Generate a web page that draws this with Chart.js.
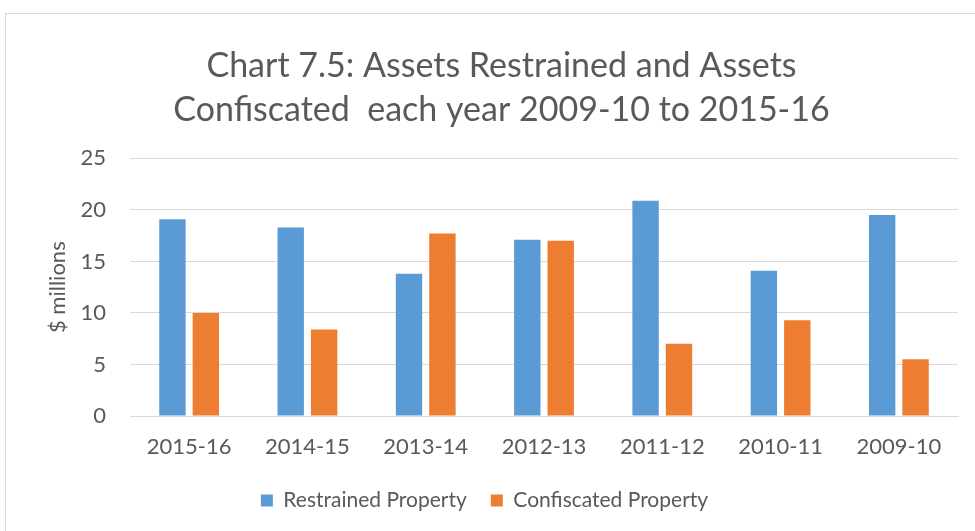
<!DOCTYPE html>
<html>
<head>
<meta charset="utf-8">
<script src="https://cdn.jsdelivr.net/npm/chart.js@4.4.1/dist/chart.umd.min.js"></script>
<style>
  html, body { margin: 0; padding: 0; background: #fff; overflow: hidden; }
  #frame { position: absolute; left: 5px; top: 13px; width: 1000px; height: 600px; border: 1px solid #d9d9d9; box-sizing: border-box; }
  #wrap { position: absolute; left: 0; top: 0; width: 975px; height: 531px; }
</style>
</head>
<body>
<div id="frame"></div>
<div id="wrap"><canvas id="chart" width="975" height="531"></canvas></div>
<script>
// Chart 7.5 data ($ millions)
const years = ['2015-16', '2014-15', '2013-14', '2012-13', '2011-12', '2010-11', '2009-10'];
const restrained = [19.1, 18.3, 13.8, 17.1, 20.9, 14.1, 19.5];
const confiscated = [10.0, 8.4, 17.7, 17.0, 7.0, 9.3, 5.5];
const yTicks = [0, 5, 10, 15, 20, 25];

const TEXT = '#595959';
const GRID = '#d9d9d9';
const FONT = 'Lato';

// legend in the original sits a bit left of the title's centre
const legendShift = {
    id: 'legendShift',
    afterLayout(chart) {
        if (chart.legend) {
            chart.legend.left -= 17;
            chart.legend.right -= 17;
        }
    }
};

const ctx = document.getElementById('chart').getContext('2d');
new Chart(ctx, {
    type: 'bar',
    data: {
        labels: years,
        datasets: [
            { label: 'Restrained Property', data: restrained, backgroundColor: '#5b9bd5' },
            { label: 'Confiscated Property', data: confiscated, backgroundColor: '#ed7d31' }
        ]
    },
    options: {
        responsive: false,
        animation: false,
        categoryPercentage: 0.565,
        barPercentage: 0.79,
        layout: { padding: { left: 45, right: 17, top: 44, bottom: 10 } },
        scales: {
            x: {
                grid: { display: false, drawTicks: false },
                border: { display: true, color: GRID, width: 1 },
                ticks: { color: TEXT, font: { family: FONT, size: 22 }, padding: 18, maxRotation: 0 },
                afterFit: (s) => { s.height = 50; }
            },
            y: {
                min: 0,
                max: 25,
                afterBuildTicks: (s) => { s.ticks = yTicks.map(v => ({ value: v })); },
                grid: { color: GRID, lineWidth: 1, drawTicks: false },
                border: { display: false },
                ticks: { color: TEXT, font: { family: FONT, size: 22 }, padding: 24 },
                title: { display: true, text: '$ millions', color: TEXT, font: { family: FONT, size: 22 }, padding: 0 },
                afterFit: (s) => { s.width = 85; }
            }
        },
        plugins: {
            title: {
                display: true,
                text: ['Chart 7.5: Assets Restrained and Assets', 'Confiscated  each year 2009-10 to 2015-16'],
                color: TEXT,
                font: { family: FONT, size: 34, weight: 'normal', lineHeight: 1.3 },
                padding: { top: 0, bottom: 26 }
            },
            legend: {
                position: 'bottom',
                labels: { color: TEXT, font: { family: FONT, size: 21 }, boxWidth: 12, boxHeight: 12, padding: 24 }
            },
            tooltip: { enabled: false }
        }
    },
    plugins: [legendShift]
});
</script>
</body>
</html>
